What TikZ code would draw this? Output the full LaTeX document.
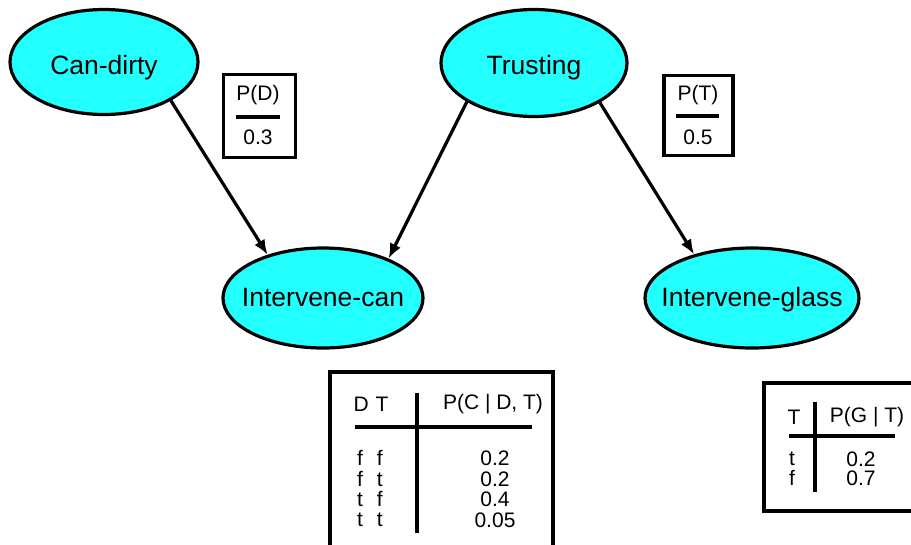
\documentclass[tikz,border=0pt]{standalone}
\usepackage{fontspec}
\setmainfont{Liberation Sans}
\usetikzlibrary{shapes.geometric,arrows.meta}
\definecolor{nodecyan}{RGB}{34,255,255}
\newcommand\elabel[2]{\makebox[0pt]{\raisebox{-#1}[0pt][0pt]{#2}}}
\tikzset{
  bnode/.style={ellipse,draw=black,line width=3.2pt,fill=nodecyan,inner sep=0pt,font=\fontsize{26.5}{30}\selectfont},
  arr/.style={line width=3.2pt,-{Latex[length=15pt,width=12pt]}},
  tline/.style={line width=4pt},
  tbox/.style={line width=3.6pt},
  ttext/.style={font=\fontsize{21}{21}\selectfont,inner sep=0pt,anchor=center}
}
\begin{document}
\begin{tikzpicture}[x=1pt,y=-1pt]
\useasboundingbox (0,0) rectangle (911,544);
\clip (0,0) rectangle (911,544);
% nodes
\node[bnode,minimum width=188pt,minimum height=105pt] (cd) at (104,62) {\elabel{12pt}{Can-dirty}};
\node[bnode,minimum width=186pt,minimum height=107pt] (tr) at (534,63) {\elabel{11.5pt}{Trusting}};
\node[bnode,minimum width=200pt,minimum height=100pt] (ic) at (323,298) {\elabel{8pt}{Intervene-can}};
\node[bnode,minimum width=214pt,minimum height=100pt] (ig) at (752,298) {\elabel{8pt}{Intervene-glass}};
% arrows
\draw[arr] (cd.-30) -- (ic.142);
\draw[arr] (tr.210) -- (ic.31);
\draw[arr] (tr.-31) -- (ig.143);
% P(D)
\node[draw,tbox,minimum width=72pt,minimum height=83pt,inner sep=0pt] (pdbox) at (259.5,116) {};
\node[ttext] (pdh) at (258,95) {P(D)};
\node[ttext] (pdv) at (258,137) {0.3};
\draw[tline] (236,117) -- (280,117);
% P(T)
\node[draw,tbox,minimum width=69pt,minimum height=80pt,inner sep=0pt] (ptbox) at (698.5,115.5) {};
\node[ttext] (pth) at (698,95) {P(T)};
\node[ttext] (ptv) at (698,137) {0.5};
\draw[tline] (676,116) -- (719,116);
% CPT for Intervene-can
\draw[tbox] (330,560) -- (330,372) -- (553,372) -- (553,560);
\node[ttext] (cdt) at (371,404) {D\,\,T};
\node[ttext] (cph) at (493,404) {P(C | D, T)};
\draw[tline] (355,427) -- (532,427);
\draw[tline] (417,393) -- (417,533);
\node[ttext] (c1a) at (370,458) {f\,\,\,\,f};
\node[ttext] (c2a) at (370,479) {f\,\,\,\,t};
\node[ttext] (c3a) at (370,499) {t\,\,\,\,f};
\node[ttext] (c4a) at (370,520) {t\,\,\,\,t};
\node[ttext] (c1b) at (495,458) {0.2};
\node[ttext] (c2b) at (495,479) {0.2};
\node[ttext] (c3b) at (495,499) {0.4};
\node[ttext] (c4b) at (495,520) {0.05};
% CPT for Intervene-glass
\draw[tbox] (930,383) -- (764,383) -- (764,511) -- (930,511);
\node[ttext] (gt) at (794,417) {T};
\node[ttext] (gph) at (867,417) {P(G | T)};
\draw[tline] (789,436) -- (895,436);
\draw[tline] (815,402) -- (815,492);
\node[ttext] (g1a) at (792,459) {t};
\node[ttext] (g2a) at (792,478) {f};
\node[ttext] (g1b) at (861,459) {0.2};
\node[ttext] (g2b) at (861,478) {0.7};
\end{tikzpicture}
\end{document}
